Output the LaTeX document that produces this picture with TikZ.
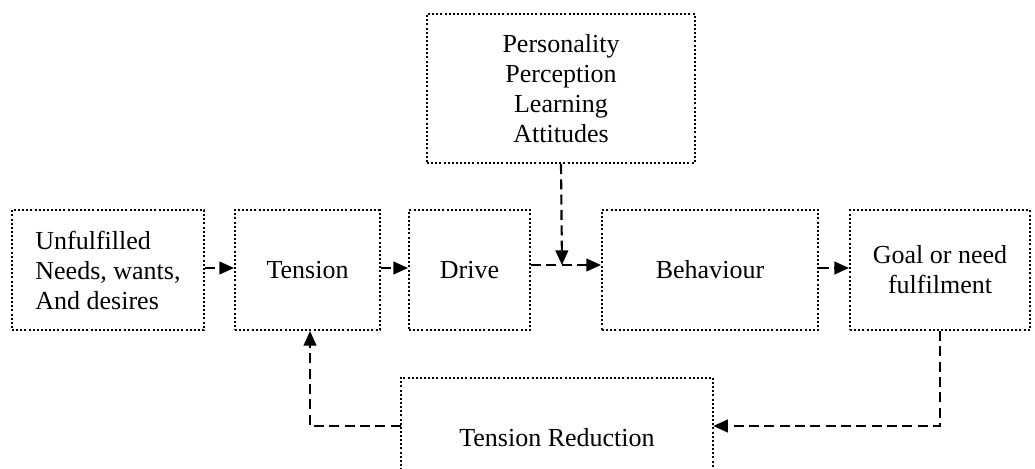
\documentclass[tikz,border=0pt]{standalone}
\usepackage{fontspec}
\setmainfont{Liberation Serif}
\usetikzlibrary{arrows.meta}
\begin{document}
\begin{tikzpicture}[x=0.75pt,y=-0.75pt,
  every node/.style={font=\fontsize{19.5pt}{22.5pt}\selectfont, inner sep=0pt},
  dotline/.style={line width=1.5pt, dash pattern=on 1.5pt off 1.6pt},
  box/.style={draw, dotline, minimum height=90pt},
  flow/.style={line width=1.6pt, dash pattern=on 7.5pt off 4pt, -{Triangle[length=11pt,width=9.5pt]}}]
\useasboundingbox (0,0) rectangle (1035,468);

% process boxes
\node[box, minimum width=144pt, align=left] (U) at (108,270) {Unfulfilled\\Needs, wants,\\And desires};
\node[box, minimum width=108.75pt] (T) at (307.5,270) {Tension};
\node[box, minimum width=90.75pt] (D) at (469.5,270) {Drive};
\node[box, minimum width=162pt] (B) at (710,270) {Behaviour};
\node[box, minimum width=135pt, align=center] (G) at (940,270) {Goal or need\\fulfilment};

% influencing factors
\node[box, minimum width=201pt, minimum height=111.75pt, align=center] (P) at (561,88.5)
  {Personality\\Perception\\Learning\\Attitudes};

% tension reduction: frame open at the bottom, label below the feedback line
\node[minimum width=234pt, minimum height=72pt] (R) at (557,426) {};
\node (Rt) at (557,438) {Tension Reduction};
\draw[dotline] (R.south west) -- (R.north west) -- (R.north east) -- (R.south east);

% connectors
\coordinate (j) at (562,265);
\draw[flow] ([yshift=1.5pt]U.east) -- ([yshift=1.5pt]T.west);
\draw[flow] ([yshift=1.5pt]T.east) -- ([yshift=1.5pt]D.west);
\draw[flow] ([yshift=3.75pt]D.east) -- ([yshift=3.75pt]B.west);
\draw[flow] ([yshift=1.5pt]B.east) -- ([yshift=1.5pt]G.west);
\draw[flow] (P.south) -- (j);
\draw[flow] (G.south) |- (R.east);
\draw[flow] (R.west) -| ([xshift=1.9pt]T.south);
\end{tikzpicture}
\end{document}
